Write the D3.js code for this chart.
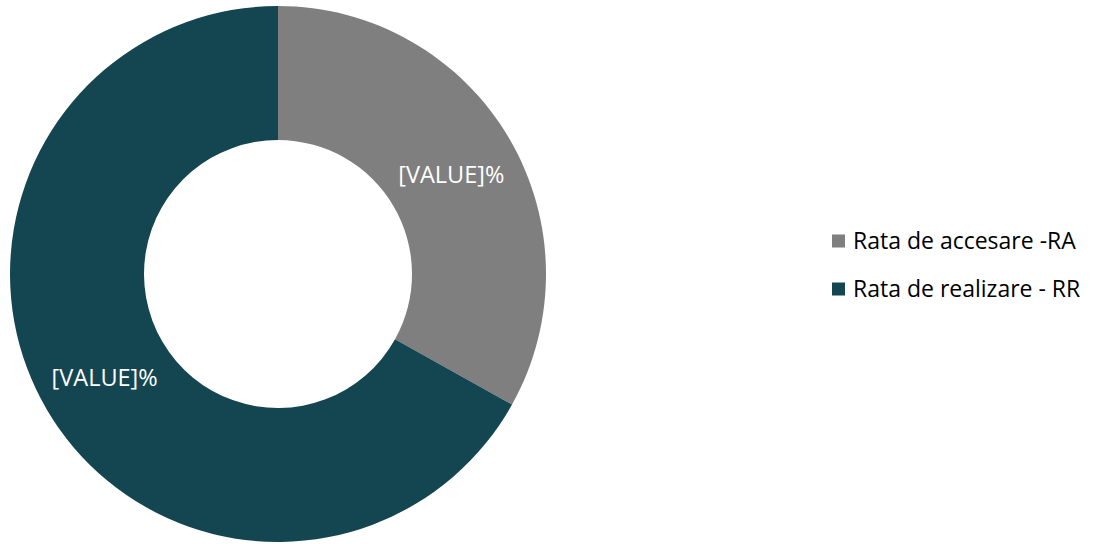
<!DOCTYPE html>
<html>
<head>
<meta charset="utf-8">
<script src="https://cdn.jsdelivr.net/npm/d3@7"></script>
<style>
  html, body { margin: 0; padding: 0; background: #fff; }
  svg { display: block; font-family: "Open Sans", "Noto Sans", sans-serif; }
  .slice-label { fill: #fff; font-size: 23.5px; }
  .legend-label { fill: #000; font-size: 23px; }
</style>
</head>
<body>
<svg id="chart" width="1099" height="544"></svg>
<script>
// donut data: share of each rate
const categories = ['Rata de accesare -RA', 'Rata de realizare - RR'];
const values = [33.1, 66.9];
const labels = ['[VALUE]%', '[VALUE]%'];
const colors = ['#7f7f7f', '#144652'];

const W = 1099, H = 544;
const cx = 278, cy = 274, rOuter = 268, rInner = 134;

const svg = d3.select('#chart');
const rows = categories.map((c, i) => ({ cat: c, v: values[i], label: labels[i] }));

const pie = d3.pie().value(d => d.v).sort(null);
const arc = d3.arc().innerRadius(rInner).outerRadius(rOuter);
const color = d3.scaleOrdinal().domain(categories).range(colors);

const g = svg.append('g').attr('transform', `translate(${cx},${cy})`);
const arcs = pie(rows);

g.selectAll('path').data(arcs).join('path')
  .attr('d', arc)
  .attr('fill', d => color(d.data.cat));

g.selectAll('text').data(arcs).join('text')
  .attr('class', 'slice-label')
  .attr('transform', d => `translate(${arc.centroid(d)})`)
  .attr('text-anchor', 'middle')
  .attr('dy', '0.45em')
  .text(d => d.data.label);

// legend
const legendY = d3.scalePoint().domain(categories).range([241, 289]);
const lg = svg.append('g').selectAll('g').data(categories).join('g')
  .attr('transform', d => `translate(832,${legendY(d)})`);
lg.append('rect').attr('x', 0).attr('y', -6.5).attr('width', 13).attr('height', 13)
  .attr('fill', d => color(d));
lg.append('text').attr('class', 'legend-label')
  .attr('x', 21).attr('dy', '0.36em').text(d => d);
</script>
</body>
</html>
